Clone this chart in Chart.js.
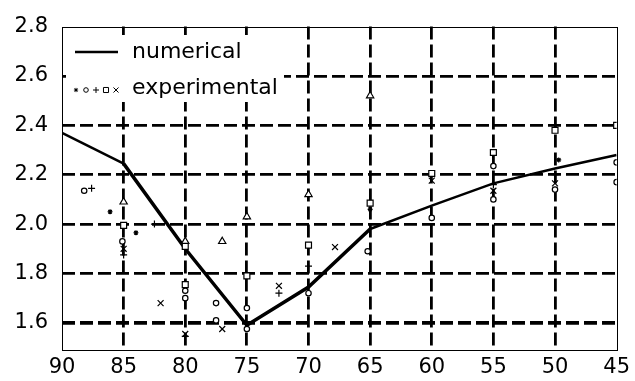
<!DOCTYPE html>
<html><head><meta charset="utf-8">
<script src="https://cdn.jsdelivr.net/npm/chart.js@4/dist/chart.umd.min.js"></script>
<style>html,body{margin:0;padding:0;background:#fff}canvas{display:block}</style>
</head><body>
<canvas id="c" width="635" height="381"></canvas>
<script>
// ---- data ----
const angles = [90, 85, 80, 75, 70, 65, 60, 55, 50, 45];
const numerical = [2.37, 2.245, 1.90, 1.59, 1.745, 1.98, 2.075, 2.165, 2.225, 2.28];
const xTickValues = [90, 85, 80, 75, 70, 65, 60, 55, 50, 45];
const yTickValues = [1.6, 1.8, 2.0, 2.2, 2.4, 2.6, 2.8];

const starX = [86.1, 84.0, 65.0, 49.7];
const starY = [2.05, 1.965, 2.06, 2.26];
const circleX = [88.2, 85.1, 80, 80, 77.5, 77.5, 75, 75, 70, 65.2, 60, 55, 55, 50, 45, 45];
const circleY = [2.135, 1.93, 1.73, 1.70, 1.68, 1.61, 1.66, 1.575, 1.72, 1.89, 2.025, 2.235, 2.10, 2.14, 2.25, 2.17];
const plusX = [87.6, 85, 82.5, 80, 72.4, 70, 55, 50];
const plusY = [2.145, 1.875, 2.0, 1.545, 1.72, 1.83, 2.16, 2.20];
const squareX = [85, 80, 80, 75, 70, 65, 60, 55, 50, 45];
const squareY = [1.995, 1.91, 1.755, 1.79, 1.915, 2.085, 2.205, 2.29, 2.38, 2.40];
const crossX = [85, 82, 80, 77, 72.4, 67.85, 60, 55, 50];
const crossY = [1.90, 1.68, 1.555, 1.575, 1.75, 1.907, 2.176, 2.135, 2.165];
const triX = [85, 80, 77, 75, 70, 65];
const triY = [2.09, 1.93, 1.93, 2.03, 2.12, 2.52];

const legendNumerical = 'numerical';
const legendExperimental = 'experimental';

// ---- helpers ----
const pts = (xs, ys) => xs.map((x, i) => ({x: x, y: ys[i]}));
const FONT = '"DejaVu Sans", "Liberation Sans", Arial, sans-serif';

const markerSet = [
  {style: 'star', r: 2.5, fill: '#000'},
  {style: 'circle', r: 2.7, fill: '#fff'},
  {style: 'cross', r: 3.5, fill: '#fff'},
  {style: 'rect', r: 4.2, fill: '#fff'},
  {style: 'crossRot', r: 4.2, fill: '#fff'}
];

function markerDataset(label, xs, ys, m) {
  return {
    type: 'scatter', label: label, data: pts(xs, ys),
    pointStyle: m.style, pointRadius: m.r, pointBorderWidth: 1.2,
    pointBorderColor: '#000', pointBackgroundColor: m.fill,
    showLine: false, order: 1
  };
}

const frameLegend = {
  id: 'frameLegend',
  beforeDatasetsDraw(chart) {
    const ctx = chart.ctx;
    ctx.save();
    ctx.fillStyle = '#fff';
    ctx.fillRect(66, 35, 218, 67);
    ctx.strokeStyle = '#000';
    ctx.lineWidth = 2.5;
    ctx.beginPath(); ctx.moveTo(75, 52); ctx.lineTo(118, 52); ctx.stroke();
    const xs = [76, 86, 96, 106, 116];
    markerSet.forEach((m, i) => {
      ctx.fillStyle = m.fill; ctx.strokeStyle = '#000'; ctx.lineWidth = 1;
      Chart.helpers.drawPoint(ctx, {pointStyle: m.style, radius: m.r * 0.85, rotation: 0, borderWidth: 1}, xs[i], 90);
    });
    ctx.fillStyle = '#000';
    ctx.font = '22px ' + FONT;
    ctx.textBaseline = 'middle';
    ctx.textAlign = 'left';
    ctx.fillText(legendNumerical, 132, 52);
    ctx.fillText(legendExperimental, 132, 88);
    ctx.restore();
  },
  afterDraw(chart) {
    const {ctx, chartArea: a} = chart;
    ctx.save();
    ctx.strokeStyle = '#000';
    ctx.lineWidth = 1;
    ctx.strokeRect(Math.round(a.left) + 0.5, Math.round(a.top) + 0.5,
                   Math.round(a.right - a.left), Math.round(a.bottom - a.top));
    ctx.restore();
  }
};

new Chart(document.getElementById('c'), {
  type: 'line',
  data: {
    datasets: [
      {
        type: 'line', label: legendNumerical, data: pts(angles, numerical),
        borderColor: '#000', borderWidth: 2.5, pointRadius: 0, tension: 0,
        fill: false, order: 2,
        segment: {borderWidth: c => (c.p0DataIndex >= 1 && c.p0DataIndex <= 4) ? 3.5 : 2.5}
      },
      markerDataset('exp *', starX, starY, markerSet[0]),
      markerDataset('exp o', circleX, circleY, markerSet[1]),
      markerDataset('exp +', plusX, plusY, markerSet[2]),
      markerDataset('exp square', squareX, squareY, markerSet[3]),
      markerDataset('exp x', crossX, crossY, markerSet[4]),
      markerDataset('exp triangle', triX, triY, {style: 'triangle', r: 4.2, fill: '#fff'})
    ]
  },
  options: {
    responsive: false,
    animation: false,
    layout: {padding: {top: 20, right: 15, left: 0, bottom: 0}},
    plugins: {legend: {display: false}, tooltip: {enabled: false}},
    scales: {
      x: {
        type: 'linear', reverse: true, min: 45, max: 90,
        afterBuildTicks: s => { s.ticks = xTickValues.map(v => ({value: v})); },
        afterFit: s => { s.height = 31; },
        ticks: {color: '#000', font: {size: 21, family: FONT}, padding: 5, maxRotation: 0,
                callback: v => String(v)},
        grid: {drawTicks: false, lineWidth: 2.8,
               color: c => (c.tick && (c.tick.value === 90 || c.tick.value === 45)) ? 'rgba(0,0,0,0)' : '#000'},
        border: {display: false, dash: [13, 5]}
      },
      y: {
        type: 'linear', min: 1.49, max: 2.8,
        afterBuildTicks: s => { s.ticks = yTickValues.map(v => ({value: v})); },
        afterFit: s => { s.width = 62; },
        ticks: {color: '#000', font: {size: 21, family: FONT}, padding: 14,
                callback: v => Number(v).toFixed(1)},
        grid: {drawTicks: false,
               lineWidth: c => (c.tick && Math.abs(c.tick.value - 1.6) < 1e-6) ? 3.8 : 2.8,
               color: c => (c.tick && Math.abs(c.tick.value - 2.8) < 1e-6) ? 'rgba(0,0,0,0)' : '#000'},
        border: {display: false, dash: [13, 5]}
      }
    }
  },
  plugins: [frameLegend]
});
</script>
</body></html>
